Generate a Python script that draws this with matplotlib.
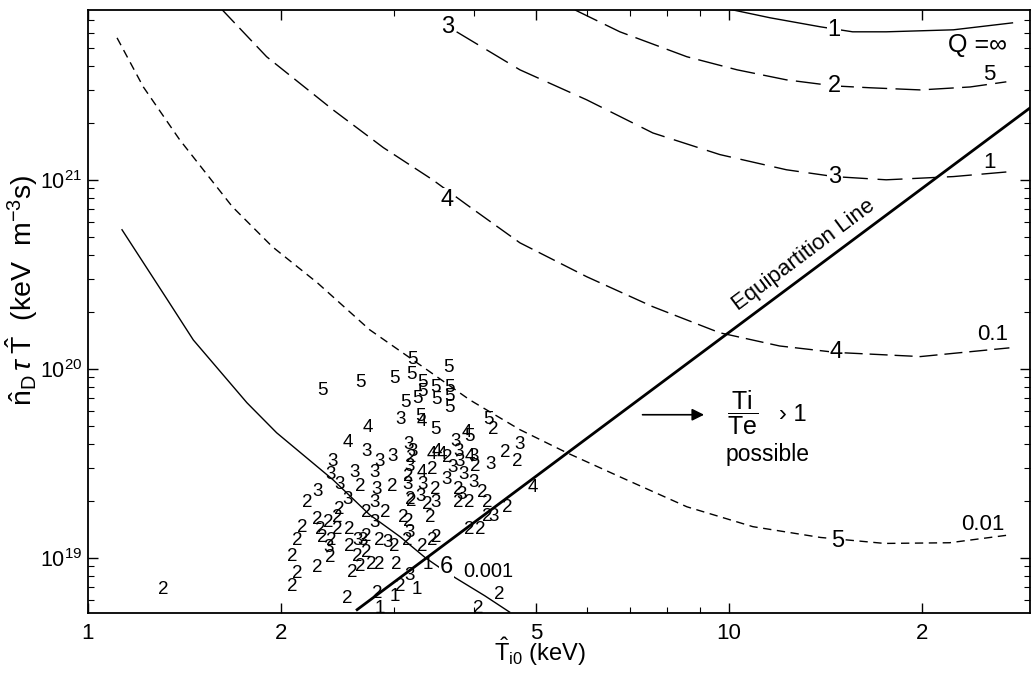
import matplotlib
matplotlib.use('Agg')
import matplotlib.pyplot as plt
import numpy as np

plt.rcParams['font.family'] = ['Liberation Sans', 'DejaVu Sans']
plt.rcParams['mathtext.fontset'] = 'custom'
plt.rcParams['mathtext.rm'] = 'Liberation Sans'
plt.rcParams['mathtext.it'] = 'Liberation Sans:italic'
plt.rcParams['mathtext.bf'] = 'Liberation Sans:bold'

E19 = 1e19  # n tau T values below are in units of 1e19 keV m^-3 s

# Q contours, T (keV) vs n tau T (1e19)
q_inf_t = [9.79, 11.6, 13.9, 15.6, 17.6, 22.4, 27.7]
q_inf_v = [813, 720, 645, 607, 607, 622, 677]

q5_t = [5.75, 6.76, 8.60, 10.3, 12.3, 14.6, 16.6, 19.9, 23.8, 27.1]
q5_v = [793, 607, 448, 382, 338, 314, 307, 299, 310, 330]

q1_t = [3.76, 4.72, 6.00, 7.61, 9.68, 12.3, 14.6, 17.6, 22.4, 27.1]
q1_v = [607, 382, 265, 177, 136, 113, 104, 100, 104, 110]

q01_t = [1.62, 1.90, 2.41, 2.89, 3.45, 3.90, 4.72, 6.00, 7.61, 9.68, 12.0, 14.7, 19.9, 27.4]
q01_v = [793, 448, 235, 148, 100, 73.8, 46.4, 30.7, 21.3, 15.5, 13.2, 12.2, 11.6, 12.9]

q001_t = [1.11, 1.22, 1.39, 1.68, 1.94, 2.28, 2.75, 3.38, 3.94, 4.72, 5.59, 6.76, 8.60,
          10.9, 13.9, 17.5, 22.1, 27.4]
q001_v = [564, 310, 163, 72.0, 44.2, 28.5, 16.1, 9.88, 6.85, 4.76, 3.59, 2.68, 1.86,
          1.46, 1.28, 1.19, 1.20, 1.32]

q0001_t = [1.13, 1.33, 1.46, 1.77, 1.97, 2.41, 2.75, 3.07, 3.36, 3.54, 3.74, 4.16, 4.55]
q0001_v = [54.4, 23.2, 14.2, 6.61, 4.58, 2.59, 1.69, 1.29, 1.00, 0.885, 0.784, 0.629, 0.515]

# equipartition line
eq_t = [2.63, 29.5]
eq_v = [0.531, 240]

# experimental points, grouped by the digit printed
t5 = [2.32, 2.66, 3.01, 3.21, 3.65, 3.20, 3.32, 3.48, 3.66, 3.32, 3.27, 3.50, 3.66, 3.67,
      3.13, 3.30, 3.48, 3.94, 4.21]
v5 = [7.7, 8.5, 8.85, 11.2, 10.2, 9.3, 8.5, 8.0, 8.0, 7.55, 7.0, 6.85, 7.1, 6.2,
      6.6, 5.6, 4.76, 4.37, 5.37]

t4 = [3.32, 2.73, 2.54, 3.90, 3.44, 3.50, 3.56, 3.32, 3.94, 4.95]
v4 = [5.24, 4.87, 4.06, 4.58, 3.51, 3.64, 3.51, 2.82, 3.42, 2.35]

t3 = [3.07, 2.41, 2.39, 2.47, 2.54, 2.61, 2.72, 2.80, 2.82, 2.80, 2.85, 2.99, 3.16, 3.21,
      3.18, 3.15, 3.33, 3.30, 3.48, 3.63, 3.74, 3.78, 3.80, 3.70, 3.85, 3.99, 3.99, 3.83,
      4.24, 2.28, 2.80, 3.18, 2.93, 2.63, 2.68, 2.37, 3.18, 4.72, 4.29]
v3 = [5.37, 3.22, 2.75, 2.43, 2.03, 2.82, 3.64, 2.82, 2.29, 1.95, 3.22, 3.42, 3.96, 3.64,
      3.03, 2.43, 2.43, 2.10, 1.95, 2.59, 4.11, 3.64, 3.22, 2.99, 2.75, 3.42, 2.49, 2.15,
      3.11, 2.23, 1.53, 1.36, 1.20, 1.24, 1.24, 1.13, 0.81, 3.96, 1.65]

t2 = [2.66, 2.98, 3.20, 3.16, 3.20, 3.48, 3.45, 3.63, 4.02, 3.78, 4.13, 3.18, 3.38, 3.78,
      3.94, 4.19, 4.29, 4.47, 4.67, 2.20, 2.47, 2.72, 2.91, 2.28, 2.37, 2.45, 2.16, 2.30,
      2.45, 2.56, 2.12, 2.32, 2.40, 2.56, 2.72, 2.85, 3.01, 3.10, 3.16, 3.42, 3.15, 3.32,
      3.44, 3.50, 2.63, 2.72, 2.08, 2.39, 2.28, 2.12, 2.58, 2.66, 2.77, 2.85, 3.03, 2.08,
      1.31, 2.54, 2.83, 3.07, 4.06, 4.39, 3.94, 4.09, 4.19, 4.51]
v2 = [2.38, 2.38, 3.38, 2.68, 1.98, 2.29, 2.92, 3.38, 3.03, 2.29, 2.21, 2.03, 1.91, 1.95,
      1.95, 1.95, 4.76, 3.59, 3.22, 1.95, 1.79, 1.73, 1.73, 1.59, 1.53, 1.63, 1.44, 1.41,
      1.41, 1.41, 1.24, 1.28, 1.24, 1.14, 1.29, 1.24, 1.14, 1.63, 1.55, 1.63, 1.24, 1.14,
      1.24, 1.28, 1.01, 1.06, 1.01, 1.00, 0.89, 0.83, 0.84, 0.90, 0.92, 0.92, 0.92, 0.70,
      0.68, 0.61, 0.65, 0.70, 0.54, 0.64, 1.41, 1.41, 1.65, 1.84]

t1 = [3.01, 3.26, 2.85, 3.39]
v1 = [0.62, 0.68, 0.54, 0.92]

x_ticks = [1, 2, 5, 10, 20]
x_tick_labels = ['1', '2', '5', '10', '2']
y_ticks = [1e19, 1e20, 1e21]
y_tick_labels = [r'$\mathregular{10^{19}}$', r'$\mathregular{10^{20}}$', r'$\mathregular{10^{21}}$']

fig = plt.figure(figsize=(10.34, 6.75), dpi=100)
ax = fig.add_axes([0.0851, 0.0919, 0.9110, 0.8930])
ax.set_xscale('log')
ax.set_yscale('log')
ax.set_xlim(1, 29.5)
ax.set_ylim(5.1e18, 7.9e21)

k = dict(color='black')
ax.plot(q_inf_t, np.array(q_inf_v) * E19, lw=1.0, **k)
ax.plot(q5_t, np.array(q5_v) * E19, lw=1.0, ls=(0, (18, 6)), **k)
ax.plot(q1_t, np.array(q1_v) * E19, lw=1.0, ls=(0, (18, 7)), **k)
ax.plot(q01_t, np.array(q01_v) * E19, lw=1.0, ls=(0, (13, 5)), **k)
ax.plot(q001_t, np.array(q001_v) * E19, lw=1.0, ls=(0, (6, 4)), **k)
ax.plot(q0001_t, np.array(q0001_v) * E19, lw=1.0, **k)
ax.plot(eq_t, np.array(eq_v) * E19, lw=2.0, **k)

for ts, vs, d in [(t5, v5, '5'), (t4, v4, '4'), (t3, v3, '3'), (t2, v2, '2'), (t1, v1, '1')]:
    for t, v in zip(ts, vs):
        ax.text(t, v * E19, d, fontsize=13.5, ha='center', va='center', clip_on=True)

# curve labels
box = dict(fc='white', ec='none', pad=0.5)
for t, v, s in [(14.6, 622, '1'), (14.6, 314, '2'), (14.6, 104, '3'), (14.7, 12.2, '4'),
                (14.8, 1.22, '5'), (3.64, 645, '3'), (3.63, 78.4, '4'), (3.63, 0.896, '6')]:
    ax.text(t, v * E19, s, fontsize=17, ha='center', va='center', bbox=box, zorder=5)
ax.text(4.21, 0.843 * E19, '0.001', fontsize=14.5, ha='center', va='center')
ax.text(24.4, 518 * E19, 'Q =\u221e', fontsize=18, ha='center', va='center')
for t, v, s in [(25.5, 359, '5'), (25.5, 123, '1'), (25.8, 15.1, '0.1'), (24.9, 1.50, '0.01')]:
    ax.text(t, v * E19, s, fontsize=16, ha='center', va='center')

# equipartition label
p1 = ax.transData.transform((eq_t[0], eq_v[0] * E19))
p2 = ax.transData.transform((eq_t[1], eq_v[1] * E19))
ang = np.degrees(np.arctan2(p2[1] - p1[1], p2[0] - p1[0]))
ax.text(13.1, 40.1 * E19, 'Equipartition Line', fontsize=16, rotation=ang,
        ha='center', va='center', rotation_mode='anchor')

# Ti/Te annotation
ax.annotate('', xy=(9.24, 5.71 * E19), xytext=(7.26, 5.71 * E19),
            arrowprops=dict(arrowstyle='-|>', color='black', lw=1.2, mutation_scale=18))
ax.text(10.5, 5.85 * E19, r'$\dfrac{\mathrm{Ti}}{\mathrm{Te}}$', fontsize=18,
        ha='center', va='center')
ax.text(12.6, 5.71 * E19, '\u203a 1', fontsize=17, ha='center', va='center')
ax.text(11.5, 3.51 * E19, 'possible', fontsize=16.5, ha='center', va='center')

ax.set_xticks(x_ticks)
ax.set_xticklabels(x_tick_labels)
ax.set_yticks(y_ticks)
ax.set_yticklabels(y_tick_labels)
ax.tick_params(which='both', direction='in', top=True, right=True)
ax.tick_params(which='major', length=7, width=1.0)
ax.tick_params(which='minor', length=4, width=0.8)
ax.tick_params(axis='x', which='major', labelsize=16, pad=7)
ax.tick_params(axis='y', which='major', labelsize=15.5, pad=4)
ax.xaxis.set_minor_formatter(matplotlib.ticker.NullFormatter())
for s in ax.spines.values():
    s.set_linewidth(1.3)

ax.set_xlabel(r'$\hat{\mathrm{T}}_{\mathrm{i0}}$ (keV)', fontsize=17)
ax.xaxis.set_label_coords(0.48, -0.038)
ax.set_ylabel(r'$\hat{\mathrm{n}}_{\mathrm{D}}\,\tau\;\hat{\mathrm{T}}$  (keV  m$^{-3}$s)',
              fontsize=20.5)
ax.yaxis.set_label_coords(-0.051, 0.535)

fig.savefig('out.png', dpi=100)
